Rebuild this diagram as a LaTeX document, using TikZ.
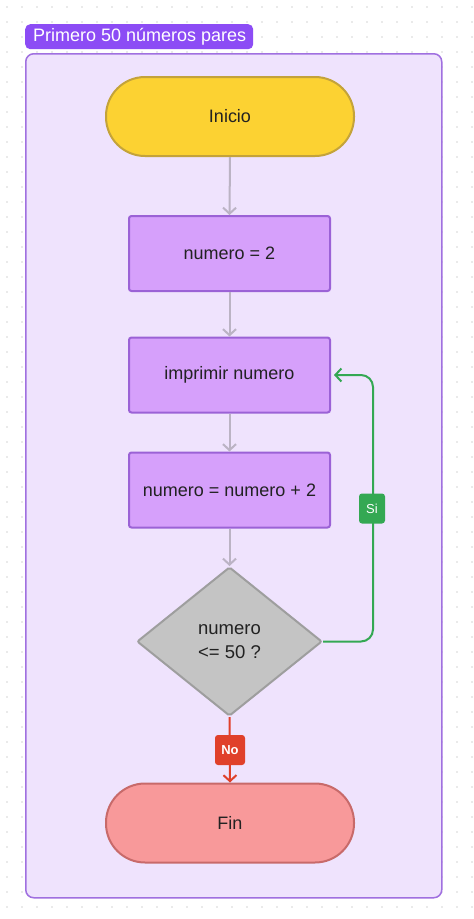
\documentclass[tikz,border=0pt]{standalone}
\usepackage{fontspec}
\setmainfont{Liberation Sans}
\usetikzlibrary{shapes.geometric,arrows.meta}
\definecolor{bgdot}{HTML}{D6D6D6}
\definecolor{titlebg}{HTML}{8C4CF5}
\definecolor{contfill}{HTML}{EFE3FD}
\definecolor{contdraw}{HTML}{A070E0}
\definecolor{startfill}{HTML}{FCD232}
\definecolor{startdraw}{HTML}{C4A33A}
\definecolor{procfill}{HTML}{D6A0FB}
\definecolor{procdraw}{HTML}{9B62D6}
\definecolor{decfill}{HTML}{C4C4C4}
\definecolor{decdraw}{HTML}{9E9E9E}
\definecolor{endfill}{HTML}{F8999A}
\definecolor{enddraw}{HTML}{C86A6A}
\definecolor{arrgray}{HTML}{BBB3C4}
\definecolor{yesgreen}{HTML}{34A853}
\definecolor{nored}{HTML}{E0402A}
\definecolor{txt}{HTML}{222222}
\tikzset{
  terminal/.style={rounded corners=39pt, minimum width=248pt, minimum height=79pt, line width=2pt, font=\fontsize{18}{21}\selectfont, text=txt},
  procbox/.style={fill=procfill, draw=procdraw, line width=2pt, rounded corners=2.5pt, minimum width=201pt, minimum height=75pt, font=\fontsize{18}{21}\selectfont, text=txt},
  flow/.style={draw=arrgray, line width=2pt, -{Straight Barb[length=6pt,width=13pt]}},
  lbl/.style={rounded corners=3pt, text=white, font=\fontsize{13}{15}\selectfont, minimum width=26pt, minimum height=30pt, inner sep=2pt}
}
\begin{document}
\begin{tikzpicture}[x=1pt,y=-1pt]
\useasboundingbox (0,0) rectangle (474,919);
\fill[white] (0,0) rectangle (474,919);
\foreach \i in {0,...,31} {
  \foreach \j in {0,...,61} {
    \fill[bgdot] (7+15*\i,7+15*\j) circle (0.8pt);
  }
}
% container
\node[fill=contfill, draw=contdraw, line width=1.5pt, rounded corners=8pt, minimum width=416pt, minimum height=844pt, anchor=north west] (cont) at (25,53) {};
\node[fill=titlebg, rounded corners=5pt, minimum width=228pt, minimum height=25pt, anchor=north west, inner sep=0pt] (title) at (25,24) {};
\node[text=white, font=\fontsize{18}{21}\selectfont, anchor=west, inner sep=0pt] (titletext) at (33,36.5) {Primero 50 números pares};
% nodes
\node[terminal, fill=startfill, draw=startdraw] (inicio) at (230,116.5) {Inicio};
\node[procbox] (n2) at (229.5,253.5) {numero = 2};
\node[procbox] (imp) at (229.5,375) {imprimir numero};
\node[procbox] (inc) at (229.5,490) {numero = numero + 2};
\node[diamond, fill=decfill, draw=decdraw, line width=2pt, rounded corners=2pt, minimum width=185pt, minimum height=149pt, inner sep=0pt, aspect=1.24, align=center, font=\fontsize{18.5}{24}\selectfont, text=txt] (dec) at (229.5,641.5) {numero\\<= 50 ?};
\node[terminal, fill=endfill, draw=enddraw] (fin) at (230,823) {Fin};
% flows
\draw[flow] (inicio.south) -- (n2.north);
\draw[flow] (n2.south) -- (imp.north);
\draw[flow] (imp.south) -- (inc.north);
\draw[flow] (inc.south) -- (dec.north);
\coordinate (c1) at (373,641.5);
\coordinate (c2) at (373,375);
\draw[yesgreen, line width=2pt, rounded corners=12pt, -{Straight Barb[length=6pt,width=13pt]}] (dec.east) -- (c1) -- (c2) -- ([xshift=3pt]imp.east);
\draw[nored, line width=2pt, -{Straight Barb[length=6pt,width=13pt]}] (dec.south) -- (fin.north);
\node[lbl, fill=yesgreen] (si) at (372,508.5) {Si};
\node[lbl, fill=nored, minimum width=30pt] (no) at (230,750) {\bfseries No};
\end{tikzpicture}
\end{document}
